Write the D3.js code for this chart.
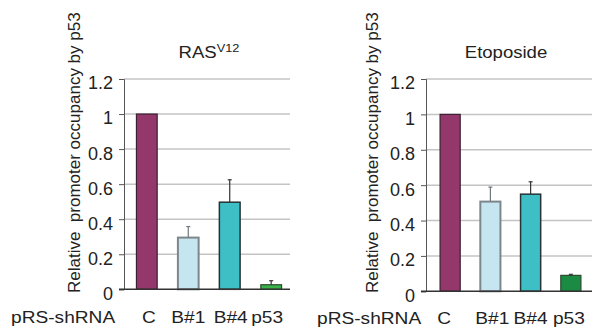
<!DOCTYPE html>
<html>
<head>
<meta charset="utf-8">
<script src="https://cdn.jsdelivr.net/npm/d3@7"></script>
<style>
  body { margin: 0; background: #fff; }
  svg { display: block; font-family: "Liberation Sans", Arial, sans-serif; }
</style>
</head>
<body>
<div id="chart"></div>
<script>
// shRNA groups along the x axis
const groups = ["C", "B#1", "B#4", "p53"]
const yTicks = [0, 0.2, 0.4, 0.6, 0.8, 1, 1.2]

// RAS V12 panel
const rasValues = [1.0, 0.295, 0.497, 0.026]
const rasErrors = [0, 0.063, 0.128, 0.023]

// Etoposide panel
const etoValues = [1.0, 0.507, 0.549, 0.09]
const etoErrors = [0, 0.082, 0.07, 0.006]

const barFill = ["#94376b", "#c5e6f0", "#3dbfc5", "#38b34a"]
const barFillEto = ["#94376b", "#c5e6f0", "#3dbfc5", "#1b8a42"]
const barStroke = ["#3a2030", "#7d878b", "#263234", "#2c4a30"]
const barStrokeW = [1.2, 2, 1.5, 1.2]

const width = 592
const height = 335
const stretch = 1.16 // the source picture is a little wider than tall

const svg = d3.select("#chart")
  .append("svg")
  .attr("width", width)
  .attr("height", height)

function drawPanel(opts) {
  const { x0, x1, bandEnd, y0, yTop, values, errors, fills, title, sup, labX, labelBase } = opts

  const y = d3.scaleLinear().domain([0, 1.2]).range([y0, yTop])
  const x = d3.scaleBand().domain(groups).range([x0, bandEnd])
    .paddingInner(0.5).paddingOuter(opts.outer)

  const g = svg.append("g")

  // gridlines
  g.selectAll(".grid")
    .data(yTicks.filter(d => d > 0))
    .enter().append("line")
    .attr("x1", x0).attr("x2", x1)
    .attr("y1", d => y(d)).attr("y2", d => y(d))
    .attr("stroke", "#c4c4c4")
    .attr("stroke-width", 1.5)

  // y axis
  const axis = g.append("g")
    .attr("transform", `translate(${x0},0)`)
    .call(d3.axisLeft(y).tickValues(yTicks).tickSize(5).tickPadding(6)
      .tickFormat(d => d3.format("")(+d.toFixed(1))))
  axis.select(".domain").attr("stroke", "#555")
  axis.selectAll(".tick line").attr("stroke", "#555")
  axis.selectAll(".tick text")
    .attr("font-size", "18px")
    .attr("fill", "#222")
    .attr("dy", "0.55em")

  // bars
  g.selectAll(".bar")
    .data(values)
    .enter().append("rect")
    .attr("x", (d, i) => x(groups[i]))
    .attr("width", x.bandwidth())
    .attr("y", d => y(d))
    .attr("height", d => y0 - y(d))
    .attr("fill", (d, i) => fills[i])
    .attr("stroke", (d, i) => barStroke[i])
    .attr("stroke-width", (d, i) => barStrokeW[i])

  // error bars
  values.forEach((v, i) => {
    if (!errors[i]) return
    const cx = x(groups[i]) + x.bandwidth() / 2
    const col = i === 1 ? "#6f787c" : "#333"
    g.append("line")
      .attr("x1", cx).attr("x2", cx)
      .attr("y1", y(v)).attr("y2", y(v + errors[i]))
      .attr("stroke", col).attr("stroke-width", 1.2)
    g.append("line")
      .attr("x1", cx - 2).attr("x2", cx + 2)
      .attr("y1", y(v + errors[i])).attr("y2", y(v + errors[i]))
      .attr("stroke", col).attr("stroke-width", 1.2)
  })

  // baseline
  g.append("line")
    .attr("x1", x0 - 5).attr("x2", x1)
    .attr("y1", y0).attr("y2", y0)
    .attr("stroke", "#333").attr("stroke-width", 1.5)

  // title
  const t = g.append("text")
    .attr("transform", `translate(${opts.titleX},58) scale(${stretch},1)`)
    .attr("text-anchor", "middle")
    .attr("font-size", "16px")
    .attr("fill", "#222")
    .text(title)
  if (sup) {
    t.append("tspan")
      .attr("font-size", "11px")
      .attr("dy", "-6")
      .text(sup)
  }

  // y label
  g.append("text")
    .attr("transform", `translate(${opts.yLabX},${opts.yLabBottom}) rotate(-90)`)
    .attr("font-size", "17px")
    .attr("fill", "#222")
    .attr("xml:space", "preserve")
    .text("Relative  promoter occupancy by p53")

  // x labels
  g.append("text")
    .attr("transform", `translate(${labX},${labelBase}) scale(${stretch},1)`)
    .attr("font-size", "16.5px")
    .attr("fill", "#222")
    .text("pRS-shRNA")

  g.selectAll(".xlab")
    .data(groups)
    .enter().append("text")
    .attr("transform", (d, i) =>
      `translate(${x(d) + x.bandwidth() / 2 + opts.labShift[i]},${labelBase}) scale(${stretch},1)`)
    .attr("text-anchor", "middle")
    .attr("font-size", "16.5px")
    .attr("fill", "#222")
    .text(d => d)
}

drawPanel({
  x0: 124, x1: 290, bandEnd: 294, outer: 0.3,
  y0: 289.3, yTop: 79,
  values: rasValues, errors: rasErrors, fills: barFill,
  title: "RAS", sup: "V12", titleX: 209,
  yLabX: 80, yLabBottom: 293,
  labX: 11, labelBase: 323,
  labShift: [2, 0, 1, -4]
})

drawPanel({
  x0: 426, x1: 592, bandEnd: 595, outer: 0.35,
  y0: 291.3, yTop: 79,
  values: etoValues, errors: etoErrors, fills: barFillEto,
  title: "Etoposide", sup: null, titleX: 506,
  yLabX: 378, yLabBottom: 293,
  labX: 317, labelBase: 324,
  labShift: [-6, 2, 0, -2]
})
</script>
</body>
</html>
